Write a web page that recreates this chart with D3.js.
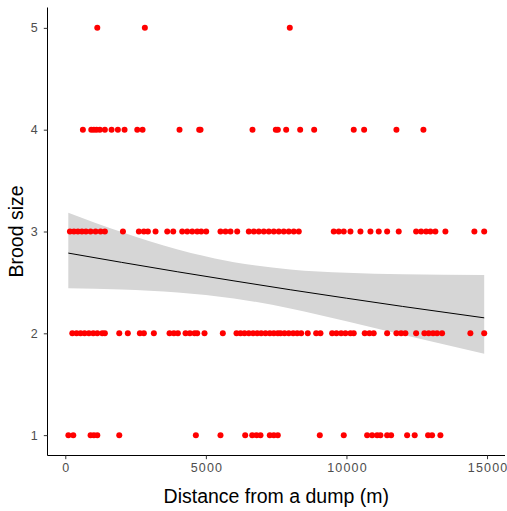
<!DOCTYPE html>
<html lang="en">
<head>
	<title>Brood size vs distance from a dump</title>
	<script src="https://d3js.org/d3.v7.min.js" charset="utf-8"></script>
	<style>
		body { margin: 0; background: #ffffff; }
		text { font-family: "Liberation Sans", Arial, sans-serif; }
	</style>
</head>
<body>
	<div id="chart"></div>
<script>
	// Distances (m) of nests, grouped by brood size
	var brood1 = [110, 284, 900, 1017, 1138, 1920, 4644, 5520, 6399, 6648, 6801, 6943, 7274, 7416, 7558,
		9052, 9905, 10736, 10914, 11091, 11209, 11447, 11589, 12158, 12428, 12904, 13046, 13342];
	var brood2 = [249, 402, 544, 686, 840, 994, 1138, 1315, 1408, 1920, 2225, 2652, 2795, 3150, 3708, 3862,
		4004, 4277, 4432, 4597, 4692, 4952, 5603, 6090, 6232, 6374, 6528, 6683, 6825, 6967, 7121, 7274,
		7416, 7558, 7654, 7796, 7949, 8105, 8248, 8390, 8624, 8923, 9076, 9491, 9645, 9812, 9965, 10142,
		10260, 10651, 10818, 10970, 11447, 11778, 11944, 12097, 12478, 12773, 12926, 13082, 13224, 13402,
		14408, 14900];
	var brood3 = [165, 308, 450, 592, 734, 900, 1077, 1255, 1408, 2050, 2617, 2795, 2937, 3210, 3626, 3839,
		4159, 4337, 4515, 4692, 4834, 5012, 5520, 5698, 5876, 6114, 6528, 6705, 6883, 7061, 7239, 7416,
		7594, 7771, 7949, 8127, 8305, 9549, 9727, 9905, 10142, 10498, 10853, 11149, 11447, 11860, 12478,
		12656, 12834, 12986, 13164, 13520, 14551, 14900];
	var brood4 = [626, 924, 1017, 1113, 1230, 1408, 1646, 1870, 2108, 2560, 2748, 4063, 4763, 4810, 6659,
		7488, 7560, 7856, 8354, 8852, 10260, 10629, 11778, 12738];
	var brood5 = [1138, 2830, 7985];

	// Fitted smooth and its confidence band
	var fitDistance = [107, 2000, 4000, 6000, 8000, 10000, 12000, 14900];
	var fitValue = [2.788, 2.697, 2.604, 2.515, 2.428, 2.345, 2.264, 2.152];
	var fitLower = [2.442, 2.430, 2.402, 2.343, 2.244, 2.118, 1.986, 1.799];
	var fitUpper = [3.183, 2.994, 2.824, 2.699, 2.628, 2.596, 2.581, 2.574];

	// Tick labels
	var xTicks = [0, 5000, 10000, 15000];
	var yTicks = [1, 2, 3, 4, 5];

	var w = 507;
	var h = 511;
	var padLeft = 47.5, padRight = 505, padTop = 7.5, padBottom = 455.5;

	// Build point table
	var points = [];
	[brood1, brood2, brood3, brood4, brood5].forEach(function(arr, i){
		arr.forEach(function(d){ points.push({ dist: d, brood: i + 1 }); });
	});
	var band = fitDistance.map(function(d, i){
		return { dist: d, fit: fitValue[i], lo: fitLower[i], hi: fitUpper[i] };
	});

	var xMin = Math.min(d3.min(points, function(d){ return d.dist; }), fitDistance[0]);
	var xMax = d3.max(points, function(d){ return d.dist; });
	var xPad = (xMax - xMin) * 0.05;
	var xScale = d3.scaleLinear()
		.domain([xMin - xPad, xMax + xPad])
		.range([padLeft, padRight]);
	var yScale = d3.scaleLinear()
		.domain([0.8, 5.2])
		.range([padBottom, padTop]);

	var svg = d3.select("#chart")
		.append("svg")
		.attr("width", w)
		.attr("height", h);

	// Confidence band
	svg.append("path")
		.datum(band)
		.attr("fill", "#d6d6d6")
		.attr("d", d3.area()
			.x(function(d){ return xScale(d.dist); })
			.y0(function(d){ return yScale(d.lo); })
			.y1(function(d){ return yScale(d.hi); })
			.curve(d3.curveMonotoneX));

	// Fitted line
	svg.append("path")
		.datum(band)
		.attr("fill", "none")
		.attr("stroke", "#000000")
		.attr("stroke-width", 1)
		.attr("d", d3.line()
			.x(function(d){ return xScale(d.dist); })
			.y(function(d){ return yScale(d.fit); })
			.curve(d3.curveMonotoneX));

	// Points
	svg.selectAll("circle")
		.data(points)
		.enter()
		.append("circle")
		.attr("cx", function(d){ return xScale(d.dist); })
		.attr("cy", function(d){ return yScale(d.brood); })
		.attr("r", 3)
		.attr("fill", "#ff0000");

	// x-axis
	var xAxis = svg.append("g")
		.attr("transform", "translate(0," + padBottom + ")")
		.call(d3.axisBottom(xScale).tickValues(xTicks).tickFormat(d3.format("d")).tickSizeOuter(0).tickSize(3.7).tickPadding(4));
	xAxis.select(".domain").attr("stroke", "#000000").attr("d", "M" + padLeft + ",0H" + padRight);
	xAxis.selectAll(".tick line").attr("stroke", "#333333");
	xAxis.selectAll(".tick text")
		.attr("fill", "#4d4d4d")
		.attr("font-size", "12.5px")
		.attr("letter-spacing", "1.2px")
		.attr("dx", "0.6")
		.attr("font-family", "'Liberation Sans', Arial, sans-serif");

	// y-axis
	var yAxis = svg.append("g")
		.attr("transform", "translate(" + padLeft + ",0)")
		.call(d3.axisLeft(yScale).tickValues(yTicks).tickFormat(d3.format("d")).tickSizeOuter(0).tickSize(3.7).tickPadding(6));
	yAxis.select(".domain").attr("stroke", "#000000").attr("d", "M0," + padTop + "V" + padBottom);
	yAxis.selectAll(".tick line").attr("stroke", "#333333");
	yAxis.selectAll(".tick text")
		.attr("fill", "#4d4d4d")
		.attr("font-size", "12.5px")
		.attr("font-family", "'Liberation Sans', Arial, sans-serif");

	// Axis titles
	svg.append("text")
		.attr("x", (padLeft + padRight) / 2)
		.attr("y", 503)
		.attr("text-anchor", "middle")
		.attr("font-size", "19.5px")
		.attr("fill", "#000000")
		.text("Distance from a dump (m)");

	svg.append("text")
		.attr("text-anchor", "middle")
		.attr("transform", "translate(23," + ((padTop + padBottom) / 2) + ") rotate(-90)")
		.attr("font-size", "19.5px")
		.attr("fill", "#000000")
		.text("Brood size");
</script>
</body>
</html>
